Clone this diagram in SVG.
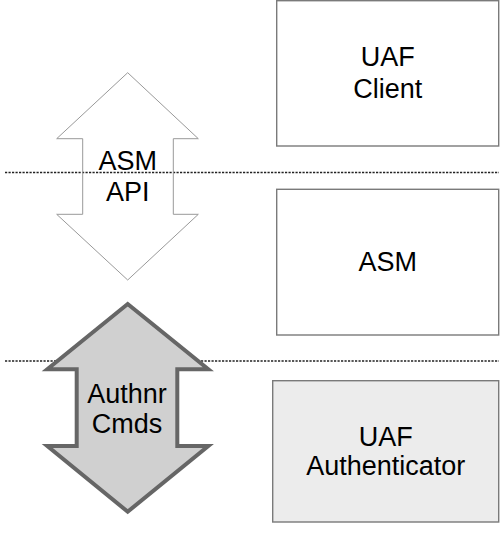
<svg xmlns="http://www.w3.org/2000/svg" width="502" height="548" viewBox="0 0 502 548">
<style>
text{font-family:"Liberation Sans",Arial,sans-serif;font-size:27px;fill:#000;text-anchor:middle}
.box{fill:#fff;stroke:#7a7a7a;stroke-width:1.4}
.sep{stroke:#222;stroke-width:1.3;stroke-dasharray:2.2,1.3;fill:none}
</style>
<rect width="502" height="548" fill="#fff"/>
<g id="connectors">
<line class="sep" x1="5" y1="172.5" x2="499" y2="172.5"/>
<line class="sep" x1="5" y1="361" x2="499" y2="361"/>
</g>
<g id="asm-api">
<path d="M127.7,72.7 L198.3,138.7 L173.3,138.7 L173.3,214.3 L198.3,214.3 L127.7,280 L56.7,214.3 L82.7,214.3 L82.7,138.7 L56.7,138.7 Z" fill="#fff" fill-opacity="0" stroke="#999" stroke-width="1"/>
<text x="127.7" y="170">ASM</text>
<text x="127.7" y="200.7">API</text>
</g>
<g id="authnr-cmds">
<path d="M127.7,304 L208.3,369.3 L177.3,369.3 L177.3,446 L208.3,446 L127.7,511.7 L47.3,446 L76.7,446 L76.7,369.3 L47.3,369.3 Z" fill="#d0d0d0" stroke="#666" stroke-width="4" stroke-linejoin="miter"/>
<text x="127" y="403.3">Authnr</text>
<text x="127" y="432.7">Cmds</text>
</g>
<g id="uaf-client">
<rect class="box" x="276.7" y="0.7" width="222" height="145.3"/>
<text x="387.7" y="66">UAF</text>
<text x="387.7" y="98.3">Client</text>
</g>
<g id="asm">
<rect class="box" x="276.7" y="189.3" width="222" height="145.7"/>
<text x="387.7" y="270.7">ASM</text>
</g>
<g id="uaf-authenticator">
<rect class="box" x="272.7" y="380.7" width="226" height="141.3" style="fill:#ececec"/>
<text x="385.7" y="446">UAF</text>
<text x="385.7" y="475">Authenticator</text>
</g>
</svg>
